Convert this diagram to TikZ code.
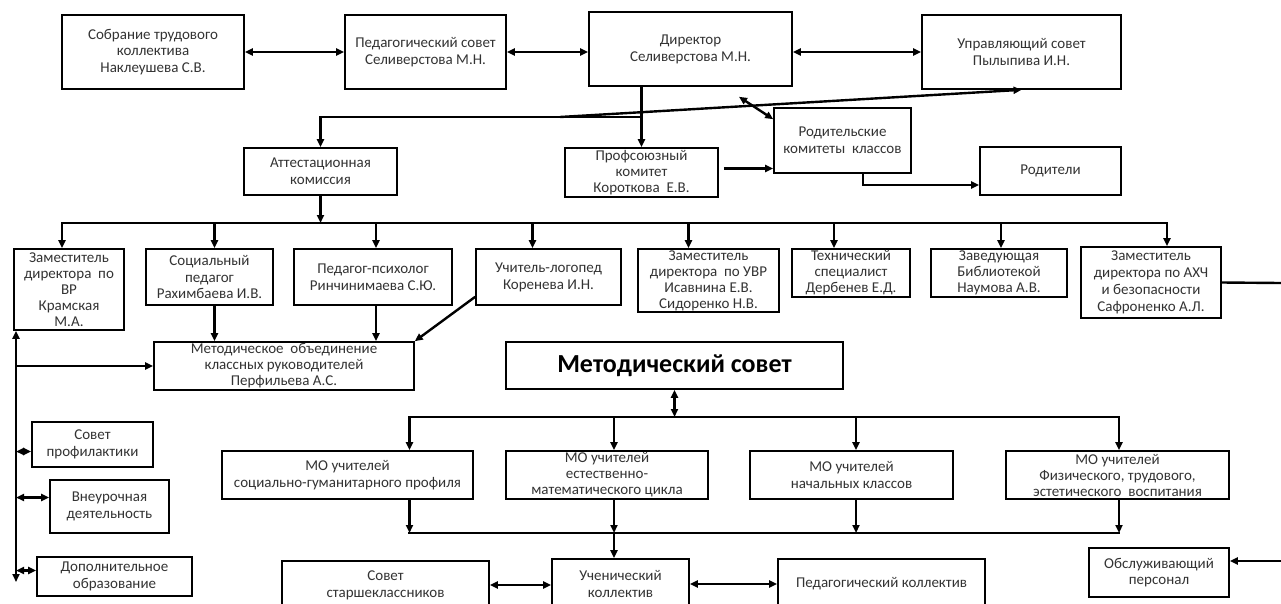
\documentclass[tikz,border=0pt]{standalone}
\usepackage{fontspec}
\setmainfont{Carlito}
\usetikzlibrary{arrows.meta}

\begin{document}
\begin{tikzpicture}
[x=1pt,y=-1pt,
bx/.style={draw=black,line width=1.6pt,align=center,inner sep=0pt,text=black!80,font=\fontsize{15}{16.8}\selectfont},
sz/.style 2 args={minimum width=#1pt,minimum height=#2pt},
ln/.style={line width=2.4pt},
ar/.style={ln,-{Triangle[length=8pt,width=7pt]}},
dar/.style={ln,{Triangle[length=8pt,width=7pt]}-{Triangle[length=8pt,width=7pt]}}]
\useasboundingbox (0,0) rectangle (1281,603);
\clip (0,0) rectangle (1281,603);
\fill[white] (0,0) rectangle (1281,603);
%%%%% TOP
\node[bx,sz={182}{74}] (sobranie) at (153,52) {Собрание трудового\\коллектива\\Наклеушева С.В.};
\node[bx,sz={161}{74}] (pedsovet) at (425.5,52) {Педагогический совет\\Селиверстова М.Н.};
\node[bx,sz={203}{74}] (direktor) at (690.5,49) {Директор\\Селиверстова М.Н.};
\node[bx,sz={199}{74}] (upravl) at (1021.5,52) {Управляющий совет\\Пылыпива И.Н.};
\node[bx,sz={137}{65}] (rodkom) at (842.5,140.5) {Родительские\\комитеты~ классов};
\node[bx,sz={141}{48}] (roditeli) at (1050.5,171) {Родители};
\node[bx,sz={153}{49},font=\fontsize{15}{16}\selectfont] (profkom) at (641.5,172.5) {Профсоюзный\\комитет\\Короткова~ Е.В.};
\node[bx,sz={153}{47}] (attest) at (320.5,171.5) {Аттестационная\\комиссия};
\coordinate (jdir) at (642,117);
\coordinate (jline) at (560,117);
\path[dar] (sobranie) edge (pedsovet);
\path[dar] (pedsovet.east) edge (pedsovet.east -| direktor.west);
\path[dar] (upravl.west -| direktor.east) edge (upravl.west);
\draw[ar] (profkom.north |- direktor.south) -- (profkom.north);
\draw[ar] (jdir) -| (attest.north);
\draw[ar] (jline) -- (upravl.south);
\draw[dar] ([shift={(48.5,10)}]direktor.south) -- ([shift={(0,12)}]rodkom.north west);
\draw[ar] ([shift={(5,-4)}]profkom.east) -- ([yshift=4pt]profkom.east -| rodkom.west);
\draw[ar] ([xshift=20.5pt]rodkom.south) |- ([yshift=-14pt]roditeli.west);
%%%%% LEVEL 1
\node[bx,sz={110}{81},font=\fontsize{15}{16}\selectfont] (zamvr) at (69,289.5) {Заместитель\\директора~ по\\ВР\\Крамская\\М.А.};
\node[bx,sz={127}{56}] (socped) at (209.5,277) {Социальный\\педагог\\Рахимбаева И.В.};
\node[bx,sz={158}{56}] (psiholog) at (373,277) {Педагог-психолог\\Ринчинимаева С.Ю.};
\node[bx,sz={145}{56}] (logoped) at (548.5,277) {Учитель-логопед\\Коренева И.Н.};
\node[bx,sz={141}{63},font=\fontsize{15}{16}\selectfont] (zamuvr) at (708.5,280.5) {Заместитель\\директора~ по УВР\\Исавнина Е.В.\\Сидоренко Н.В.};
\node[bx,sz={118}{48},font=\fontsize{15}{16}\selectfont] (tehspec) at (851,273) {Технический\\специалист\\Дербенев Е.Д.};
\node[bx,sz={136}{48},font=\fontsize{15}{16}\selectfont] (biblio) at (999,273) {Заведующая\\Библиотекой\\Наумова А.В.};
\node[bx,sz={140}{71}] (zamahch) at (1151,282.5) {Заместитель\\директора по АХЧ\\и безопасности\\Сафроненко А.Л.};
\coordinate (bus1L) at (62,223);
\coordinate (bus1R) at (1167,223);
\coordinate (edgeA) at (1281,283);
\draw[ar] (attest.south) -- (attest.south |- bus1L);
\draw[ln,line cap=rect] (bus1L) -- (bus1R);
\foreach \n/\dx in {zamvr/-7,socped/5,psiholog/3,logoped/-16,zamuvr/-20,tehspec/-17,biblio/2,zamahch/16}
{
	\draw[ar] ([xshift=\dx pt]\n.north |- bus1L) -- ([xshift=\dx pt]\n.north);
};
\draw[ln] (zamahch.east) -- (edgeA);
%%%%% LEVEL 2
\node[bx,sz={260}{48},font=\fontsize{15}{16}\selectfont] (moklass) at (284,366) {Методическое~ объединение\\классных руководителей\\Перфильева А.С.};
\node[bx,sz={337}{47},text=black,font=\fontsize{26}{30}\selectfont\bfseries] (metsovet) at (674.5,365.5) {Методический совет};
\node[bx,sz={121}{45}] (profil) at (92.5,444.5) {Совет\\профилактики};
\node[bx,sz={119}{53}] (vneur) at (109.5,506.5) {Внеурочная\\деятельность};
\node[bx,sz={155}{39}] (dopobr) at (114.5,576.5) {Дополнительное\\образование};
\coordinate (leftB) at (16,582);
\draw[ar] ([xshift=5pt]socped.south) -- ([xshift=5pt]socped.south |- moklass.north);
\draw[ar] ([xshift=3pt]psiholog.south) -- ([xshift=3pt]psiholog.south |- moklass.north);
\draw[ar] ([yshift=9pt]logoped.south west) -- (moklass.north east);
\draw[dar] (zamvr.south west -| leftB) -- (leftB);
\draw[ar] (moklass.west -| leftB) -- (moklass.west);
\draw[dar] ([yshift=-7pt]profil.west -| leftB) -- ([yshift=-7pt]profil.west);
\draw[dar] ([yshift=9pt]vneur.west -| leftB) -- ([yshift=9pt]vneur.west);
\draw[dar] ([yshift=6pt]dopobr.west -| leftB) -- ([yshift=6pt]dopobr.west);
%%%%% LEVEL 3
\node[bx,sz={251}{48}] (mosoc) at (347.5,475) {МО учителей\\социально-гуманитарного профиля};
\node[bx,sz={202}{48},font=\fontsize{15}{16}\selectfont] (moest) at (607,475) {МО учителей\\естественно-\\математического цикла};
\node[bx,sz={203}{48}] (monach) at (851.5,475) {МО учителей\\начальных классов};
\node[bx,sz={223}{48},font=\fontsize{15}{16}\selectfont] (mofiz) at (1117.5,475) {МО учителей\\Физического, трудового,\\эстетического~ воспитания};
\coordinate (bus2L) at (409,417);
\coordinate (bus2R) at (1119,417);
\coordinate (bus3L) at (409,533);
\coordinate (bus3R) at (1119,533);
\draw[dar] (metsovet.south) -- (metsovet.south |- bus2L);
\draw[ln,line cap=rect] (bus2L) -- (bus2R);
\draw[ln,line cap=rect] (bus3L) -- (bus3R);
\foreach \n/\dx in {mosoc/62,moest/7,monach/4.5,mofiz/1.5}
{
	\draw[ar] ([xshift=\dx pt]\n.north |- bus2L) -- ([xshift=\dx pt]\n.north);
	\draw[ar] ([xshift=\dx pt]\n.south) -- ([xshift=\dx pt]\n.south |- bus3L);
};
%%%%% BOTTOM
\node[bx,sz={207}{48}] (starsh) at (385.5,585) {Совет\\старшеклассников};
\node[bx,sz={137}{50}] (uchenik) at (620.5,584) {Ученический\\коллектив};
\node[bx,sz={207}{50}] (pedkoll) at (881.5,584) {Педагогический коллектив};
\node[bx,sz={140}{49}] (obsluzh) at (1159,572.5) {Обслуживающий\\персонал};
\coordinate (edgeB) at (1281,561);
\draw[ar] ([xshift=-6.5pt]uchenik.north |- bus3L) -- ([xshift=-6.5pt]uchenik.north);
\draw[dar] (starsh.east) -- (starsh.east -| uchenik.west);
\draw[dar] (uchenik.east) -- (uchenik.east -| pedkoll.west);
\draw[ar] (edgeB) -- (edgeB -| obsluzh.east);
\end{tikzpicture}
\end{document}
